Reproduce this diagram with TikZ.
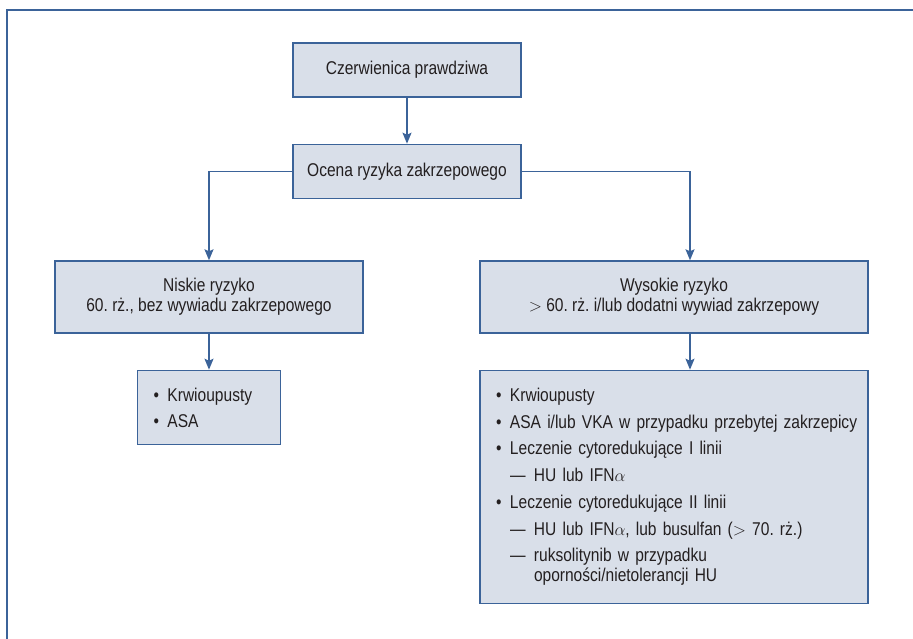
\documentclass[tikz,border=0pt]{standalone}
\usepackage{fontspec}
\setmainfont{Liberation Sans}[FakeStretch=0.84]
\usetikzlibrary{positioning,arrows.meta}

\definecolor{ramka}{RGB}{59,99,153}
\definecolor{tlo}{RGB}{217,223,233}
\definecolor{tekst}{RGB}{35,31,32}

\newcommand{\pkt}{\makebox[14pt][l]{\textbullet}}
\newcommand{\mysl}{\hspace*{14pt}\makebox[24pt][l]{---}}
\frenchspacing

\tikzset{
	blok/.style={draw=ramka, fill=tlo, line width=1.4pt, text=tekst, inner sep=0pt,
		minimum width=228pt, minimum height=54pt, font=\fontsize{18.5}{20}\selectfont},
	lista/.style={blok, align=left, inner xsep=16pt, minimum width=0pt},
	strz/.style={draw=ramka, line width=1.4pt, -{Stealth[width=9pt,length=11pt,inset=2pt]}}
}

\begin{document}
\begin{tikzpicture}[x=1pt, y=-1pt]
	\useasboundingbox (0,0) rectangle (913,639);
	\draw[ramka, line width=2pt] (913,10) -- (7,10) -- (7,639);

	\node[blok] (czerw) at (407,70) {Czerwienica prawdziwa};
	\node[blok] (ocena)[below=46pt of czerw] {Ocena ryzyka zakrzepowego};
	\node[blok, minimum width=308pt, minimum height=72pt, align=center] (niskie) at (209,297)
		{Niskie ryzyko\\60. rż., bez wywiadu zakrzepowego};
	\node[blok, minimum width=388pt, minimum height=72pt, align=center] (wysokie) at (674,297)
		{Wysokie ryzyko\\$>$ 60. rż. i/lub dodatni wywiad zakrzepowy};
	\node[lista, text width=111pt, minimum height=74pt] (krw)[below=36pt of niskie]
		{\pkt Krwioupusty\\[6pt]\pkt ASA};
	\node[lista, text width=356pt, minimum height=233pt] (leczenie)[below=36pt of wysokie]
		{\pkt Krwioupusty\\[6.7pt]
		\pkt\mbox{ASA i/lub VKA w przypadku przebytej zakrzepicy}\\[6.7pt]
		\pkt Leczenie cytoredukujące I linii\\[6.7pt]
		\mysl HU lub IFN$\alpha$\\[6.7pt]
		\pkt Leczenie cytoredukujące II linii\\[6.7pt]
		\mysl HU lub IFN$\alpha$, lub busulfan ($>$ 70. rż.)\\[6.7pt]
		\mysl ruksolitynib w przypadku\\
		\hspace*{38pt}oporności/nietolerancji HU};

	\draw[strz] (czerw) -- (ocena);
	\draw[strz] (ocena.west) -| (niskie.north);
	\draw[strz] (ocena.east) -| ([xshift=16pt]wysokie.north);
	\draw[strz] (niskie) -- (krw);
	\draw[strz] ([xshift=16pt]wysokie.south) -- ([xshift=16pt]leczenie.north);
\end{tikzpicture}
\end{document}
